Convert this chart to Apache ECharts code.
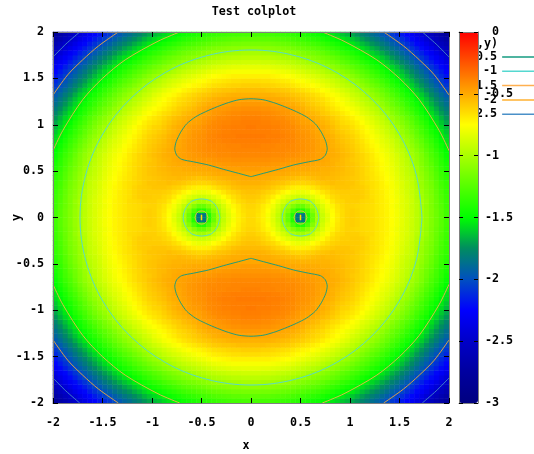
<!DOCTYPE html>
<html><head><meta charset="utf-8">
<style>html,body{margin:0;padding:0;background:#fff}#c{width:534px;height:454px}</style>
<script src="https://cdn.jsdelivr.net/npm/echarts@6/dist/echarts.min.js"></script>
</head><body><div id="c"></div>
<script>
// cell centres for the positive half of each axis; the picture is mirror symmetric in x and y
const halfCenters=[.025,.075,.125,.175,.225,.275,.325,.375,.425,.475,.525,.575,.625,.675,.725,.775,.825,.875,.925,.975,1.025,1.075,1.125,1.175,1.225,1.275,1.325,1.375,1.425,1.475,1.525,1.575,1.625,1.675,1.725,1.775,1.825,1.875,1.925,1.975];
// read-off depth below zero, in hundredths; row = y cell, column = x cell
const depthRows=[
[64,67,71,77,84,93,104,119,140,185,185,140,118,101,91,83,75,69,65,62,61,62,64,65,66,68,70,72,75,78,82,86,90,95,100,106,112,118,124,131],
[64,66,70,75,82,90,100,111,127,140,140,127,111,98,88,80,74,68,65,62,61,62,64,65,66,68,70,72,75,78,82,86,90,95,100,106,112,118,124,131],
[63,65,69,73,79,87,95,103,112,119,119,111,101,93,85,78,72,67,64,62,62,63,64,65,66,68,70,72,76,79,83,86,91,95,101,107,113,119,125,132],
[61,63,65,69,75,81,87,92,98,102,102,98,92,85,79,74,68,64,63,61,61,61,63,64,65,68,70,72,75,78,83,86,90,96,100,106,113,119,126,132],
[59,60,63,66,70,75,80,84,88,90,90,88,84,79,74,69,65,63,61,61,60,60,61,63,66,68,70,73,76,79,83,87,91,97,102,108,113,120,127,133],
[57,58,60,62,64,68,72,75,79,81,81,79,75,72,68,65,62,61,60,60,60,60,61,63,66,68,70,73,76,80,84,88,92,97,103,109,114,121,128,134],
[55,55,56,57,60,62,64,67,70,71,71,70,68,65,62,61,59,58,58,58,59,60,61,63,66,68,71,73,77,80,85,89,92,98,104,110,115,122,129,134],
[52,52,53,54,56,57,58,60,62,63,63,62,61,59,58,57,56,57,57,58,58,60,62,64,66,68,71,74,77,81,85,89,93,99,105,111,116,123,130,135],
[50,50,51,51,52,53,54,55,56,57,58,57,56,55,54,55,55,56,57,58,59,60,62,64,67,69,72,75,78,82,87,91,94,100,106,112,118,125,132,137],
[49,49,49,49,50,50,50,51,52,52,53,53,53,53,53,53,54,55,56,57,58,60,62,65,67,70,73,76,79,83,88,92,96,102,107,113,119,126,133,139],
[46,46,47,47,47,47,48,49,49,50,50,50,51,51,52,52,53,54,55,57,58,60,62,65,68,71,74,77,80,84,89,93,97,103,109,115,121,128,135,141],
[44,44,44,44,45,45,46,46,47,47,48,48,49,50,50,51,52,54,55,57,58,60,63,65,68,71,74,77,81,85,90,94,99,105,111,117,123,130,137,143],
[42,42,42,42,43,43,43,44,45,45,46,46,47,48,49,50,52,53,55,57,59,61,63,66,69,72,75,78,82,86,91,95,100,106,112,118,125,131,138,145],
[40,40,40,40,41,41,41,42,42,43,44,45,46,47,48,50,51,52,54,56,58,61,63,66,69,73,76,79,83,87,92,97,102,107,113,120,127,133,140,147],
[39,39,39,39,40,40,40,41,41,42,43,44,45,47,48,50,51,53,55,57,59,62,65,68,71,74,78,81,85,90,94,99,104,110,116,123,129,136,143,150],
[38,38,39,39,39,40,40,40,41,42,43,44,45,47,49,50,52,54,56,58,60,63,66,69,73,76,80,83,87,92,97,102,107,113,119,126,132,139,146,153],
[37,37,37,37,38,38,39,39,40,42,43,44,45,47,49,50,52,55,57,59,61,64,67,71,74,78,82,85,89,94,99,104,110,116,122,129,135,142,149,156],
[36,36,36,37,37,37,38,39,40,42,43,44,46,48,50,51,53,56,58,60,62,65,69,72,76,79,83,87,92,97,102,107,112,119,125,132,138,145,152,158],
[37,37,37,37,38,38,39,40,41,43,44,45,47,49,51,53,55,58,60,62,64,67,71,74,78,82,86,90,95,100,105,110,116,122,129,135,142,148,155,162],
[36,37,37,37,38,38,39,40,41,43,45,46,47,49,51,53,56,59,62,63,66,69,72,76,80,84,88,92,97,102,107,113,119,125,131,138,145,151,158,165],
[37,37,38,38,39,39,40,41,43,45,47,48,49,51,53,55,58,61,64,66,68,71,75,79,83,87,91,95,101,106,111,116,122,129,135,141,149,155,162,169],
[38,38,39,39,40,41,41,43,44,46,48,49,51,53,55,57,60,63,66,68,71,74,78,82,86,90,94,99,104,109,114,120,126,132,139,145,153,159,166,173],
[40,40,41,41,42,43,44,45,47,48,50,52,54,56,59,61,64,66,69,72,75,78,83,86,90,94,99,103,109,114,120,125,131,138,144,151,157,164,171,178],
[42,42,43,43,44,45,45,46,48,50,52,55,57,59,61,64,67,70,73,75,78,81,86,89,94,97,102,107,113,117,123,129,135,141,147,154,161,168,175,182],
[45,45,46,46,47,48,49,50,51,53,55,58,60,62,64,67,70,73,76,79,82,86,90,94,98,102,107,112,118,123,128,134,140,146,152,159,166,173,180,187],
[48,48,49,49,50,50,51,52,54,56,58,60,62,64,66,69,72,75,78,81,86,89,94,97,102,106,111,116,121,126,132,138,143,151,156,163,170,177,184,191],
[52,52,52,52,53,54,55,56,58,59,61,63,65,67,70,73,76,78,82,85,90,93,98,102,106,110,115,120,126,131,137,143,148,155,161,168,175,182,189,196],
[56,56,56,57,58,58,59,60,62,64,66,68,70,72,75,77,80,83,87,90,94,98,102,106,111,115,120,125,131,136,142,148,154,161,167,174,181,188,195,202],
[61,61,62,62,63,64,65,66,68,70,72,73,75,77,80,83,86,89,93,96,99,103,108,112,117,121,126,131,137,142,148,154,160,167,173,180,187,194,201,208],
[65,65,66,66,67,68,69,70,72,74,76,78,80,82,85,87,90,93,97,100,104,108,113,117,122,126,131,136,142,147,153,159,165,172,178,185,192,199,206,213],
[71,71,71,71,72,73,74,75,77,79,81,83,85,87,90,93,96,99,103,106,110,114,119,123,128,132,137,142,148,153,159,165,171,178,184,191,198,205,212,219],
[77,77,77,77,78,79,80,81,83,85,87,89,91,93,96,99,102,105,109,112,116,120,124,128,133,137,142,147,153,158,164,170,176,183,189,196,203,210,217,224],
[82,82,83,83,84,85,86,87,89,91,93,95,97,99,102,105,108,111,115,118,122,126,130,134,139,143,148,153,159,164,170,176,182,189,195,202,209,216,223,230],
[89,89,90,90,91,92,93,94,96,98,100,102,104,106,109,112,115,118,122,125,129,132,137,141,146,150,155,160,166,171,177,183,189,196,202,209,216,223,230,237],
[95,95,96,96,97,98,99,100,102,104,106,108,110,112,115,117,120,123,127,130,134,138,143,147,152,156,161,166,172,177,183,189,195,202,208,215,222,229,236,243],
[101,101,102,102,103,104,105,106,108,110,112,114,116,118,121,124,127,130,134,137,141,145,150,154,159,163,168,173,179,184,190,196,202,209,215,222,229,236,243,250],
[108,108,109,109,110,111,112,113,115,117,119,121,123,125,128,131,134,137,141,144,148,152,157,161,166,170,175,180,186,191,197,203,209,216,222,229,236,243,250,257],
[115,115,116,116,117,118,119,120,122,124,126,128,130,132,135,138,141,144,148,151,155,159,164,168,173,177,182,187,193,198,204,210,216,223,229,236,243,250,257,264],
[122,122,123,123,124,125,126,127,129,131,133,135,137,139,142,145,148,151,155,158,162,166,171,175,180,184,189,194,200,205,211,217,223,230,236,243,250,257,264,271],
[129,129,130,130,131,132,133,134,136,138,140,142,144,146,149,152,155,158,162,165,169,173,178,182,187,191,196,201,207,212,218,224,230,237,243,250,257,264,271,278]
];
const levelNames=['-0.5','-1','-1.5','-2','-2.5'];
const levelColors=['#159b80','#55d8d0','#ffb050','#ffb030','#4a90c8'];
// contour paths (x>=0,y>=0 part of each path)
const lobeHalf=[[0,.44],[.125,.476],[.28,.52],[.43,.566],[.58,.6],[.70,.627],[.75,.67],[.77,.74],[.755,.82],[.71,.92],[.65,1.01],[.56,1.085],[.46,1.14],[.34,1.195],[.225,1.24],[.12,1.27],[0,1.28]];
const bigRingQuarter=[[1.727,0],[1.668,.467],[1.496,.903],[1.221,1.277],[.864,1.564],[.447,1.744],[0,1.806]];
const pitRing1Quarter=[[.185,0],[.16,.1],[.1,.175],[0,.2]];
const pitRing15Quarter=[[.065,0],[.05,.045],[.03,.065],[0,.07]];
const arc15=[[2,.72],[1.9,.94],[1.7,1.27],[1.5,1.5],[1.27,1.7],[.94,1.9],[.72,2]];
const arc2=[[2,1.32],[1.85,1.54],[1.7,1.7],[1.54,1.85],[1.34,2]];
const arc25=[[2,1.73],[1.87,1.87],[1.73,2]];
const pitCore=[[.5,-.03],[.5,.03]];

const FONT='"DejaVu Sans Mono"';
const allCenters=halfCenters.slice().reverse().map(v=>-v).concat(halfCenters);
const cats=allCenters.map(String);
const heat=[];
for(let j=0;j<80;j++)for(let i=0;i<80;i++){
  const r=j<40?39-j:j-40,c=i<40?39-i:i-40;
  heat.push([i,j,depthRows[r][c]/-100]);
}
const flip=(p,sx,sy)=>p.map(q=>[q[0]*sx,q[1]*sy]);
function closedRing(q,cx){ // quarter -> closed ring around (cx,0)
  const a=q, b=flip(q,-1,1).reverse(), c=flip(q,-1,-1), d=flip(q,1,-1).reverse();
  return a.concat(b.slice(1),c.slice(1),d.slice(1)).map(p=>[p[0]+cx,p[1]]);
}
function lobe(s){const r=flip(lobeHalf,1,s),l=flip(lobeHalf,-1,s).reverse();return r.concat(l.slice(1));}
const paths=[
 [0,lobe(1),.25],[0,lobe(-1),.25],
 [1,closedRing(bigRingQuarter,0),.35],[1,closedRing(pitRing1Quarter,.5),.3],[1,closedRing(pitRing1Quarter,-.5),.3],
 [2,closedRing(pitRing15Quarter,.5),.3],[2,closedRing(pitRing15Quarter,-.5),.3]
];
[[1,1],[-1,1],[-1,-1],[1,-1]].forEach(s=>{
  paths.push([2,flip(arc15,s[0],s[1]),.3],[3,flip(arc2,s[0],s[1]),.3],[4,flip(arc25,s[0],s[1]),.3]);
});
const contourSeries=paths.map(p=>({
  type:'line',name:levelNames[p[0]],xAxisIndex:1,yAxisIndex:1,data:p[1],showSymbol:false,symbol:'none',
  smooth:p[2],color:levelColors[p[0]],lineStyle:{width:1,color:levelColors[p[0]],opacity:p[0]>=2?.85:.95},z:3,silent:true,animation:false
}));
const textS={fontFamily:FONT,fontWeight:'bold',fontSize:11.7,color:'#000'};
const G={left:53,top:32,width:396,height:371,outerBoundsMode:'none',containLabel:false};
const CB={left:459,top:32,width:19,height:371,outerBoundsMode:'none',containLabel:false};
const LINE={show:true,onZero:false,lineStyle:{color:'#808080',width:1}};
const TICK={show:true,inside:true,length:5,lineStyle:{color:'#000',width:1}};
const valAxis=(extra)=>Object.assign({type:'value',min:-2,max:2,interval:.5,gridIndex:1,splitLine:{show:false},axisLine:LINE,axisTick:TICK,z:5},extra);
const option={
 animation:false,backgroundColor:'#fff',
 title:{text:'Test colplot',left:249,top:1,textAlign:'center',textStyle:Object.assign({},textS,{fontSize:11.7})},
 grid:[Object.assign({},G),Object.assign({},G),Object.assign({},CB)],
 xAxis:[
  {type:'category',gridIndex:0,data:cats,show:false},
  valAxis({position:'bottom',name:'x',nameLocation:'middle',nameGap:37,nameMoveOverlap:false,nameTextStyle:Object.assign({},textS,{padding:[0,10,0,0]}),axisLabel:Object.assign({},textS,{margin:14})}),
  valAxis({position:'top',axisLabel:{show:false}}),
  {type:'value',gridIndex:2,min:0,max:1,position:'bottom',axisLabel:{show:false},axisTick:{show:false},splitLine:{show:false},axisLine:LINE,z:6},
  {type:'value',gridIndex:2,min:0,max:1,position:'top',axisLabel:{show:false},axisTick:{show:false},splitLine:{show:false},axisLine:LINE,z:6}
 ],
 yAxis:[
  {type:'category',gridIndex:0,data:cats,show:false},
  valAxis({position:'left',name:'y',nameLocation:'middle',nameGap:30,nameMoveOverlap:false,nameRotate:90,nameTextStyle:Object.assign({},textS),axisLabel:Object.assign({},textS,{margin:9})}),
  valAxis({position:'right',axisLabel:{show:false}}),
  {type:'value',gridIndex:2,min:-3,max:0,interval:.5,position:'right',splitLine:{show:false},axisLine:LINE,
   axisTick:{show:true,inside:true,length:4,lineStyle:{color:'#000'}},z:6,
   axisLabel:Object.assign({},textS,{margin:7,align:'left',formatter:v=>v===0?' 0':String(v)})},
  {type:'value',gridIndex:2,min:-3,max:0,interval:.5,position:'left',splitLine:{show:false},axisLine:LINE,
   axisTick:{show:true,inside:true,length:4,lineStyle:{color:'#000'}},axisLabel:{show:false},z:6}
 ],
 visualMap:{type:'continuous',seriesIndex:0,dimension:2,min:-3,max:0,left:CB.left,top:CB.top,itemWidth:CB.width,itemHeight:CB.height,
  padding:0,calculable:false,text:null,showLabel:false,z:5,hoverLink:false,realtime:false,
  inRange:{color:['#000080','#00009f','#0000c8','#0000ff','#0050c0','#008c60','#00ff00','#55ff00','#aaff00','#ffff00','#ffaa00','#ff5500','#ff0000']}},
 legend:{data:levelNames,orient:'vertical',align:'right',left:469,top:51,itemWidth:32,itemHeight:1.5,itemGap:2.3,icon:'rect',selectedMode:false,z:1,
  padding:0,textStyle:Object.assign({},textS)},
 graphic:[{type:'text',z:1,x:498,y:38,style:{text:'(x,y)',align:'right',font:'bold 11.7px '+FONT,fill:'#000'}}],
 series:[
  {type:'heatmap',xAxisIndex:0,yAxisIndex:0,data:heat,progressive:0,silent:true,animation:false,z:1}
 ].concat(contourSeries,[{type:'line',name:'core',xAxisIndex:1,yAxisIndex:1,data:pitCore,symbol:'none',lineStyle:{color:'#ffe000',width:1.5},z:4},
  {type:'line',name:'core',xAxisIndex:1,yAxisIndex:1,data:flip(pitCore,-1,1),symbol:'none',lineStyle:{color:'#ffe000',width:1.5},z:4}])
};
const chart=echarts.init(document.getElementById('c'),null,{renderer:'canvas'});
chart.setOption(option);
</script></body></html>
